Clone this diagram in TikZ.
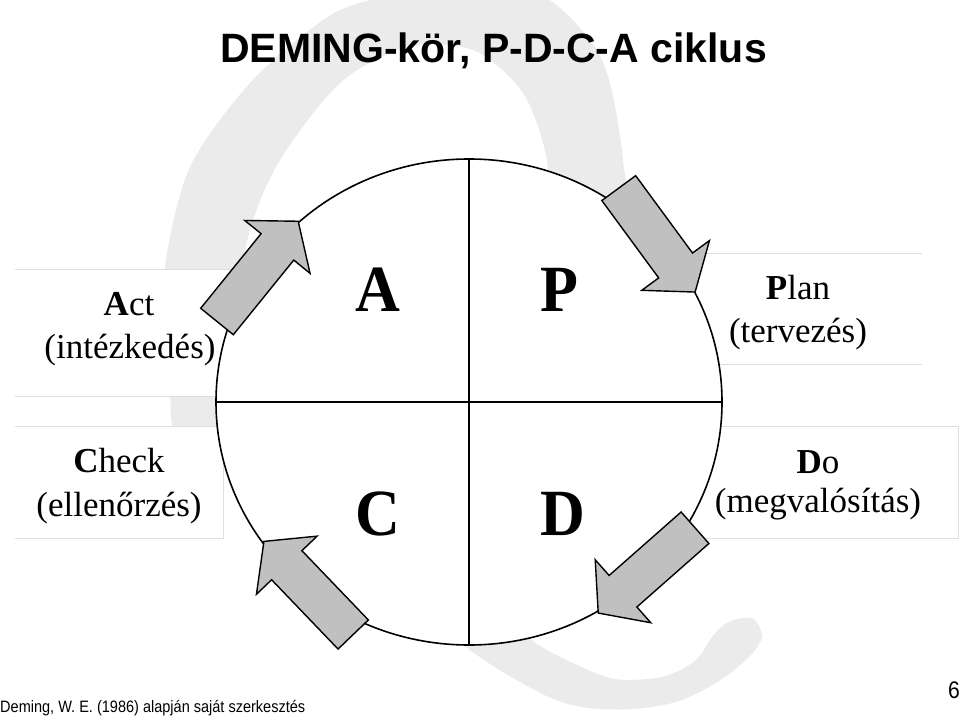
\documentclass[tikz,border=0pt]{standalone}
\usepackage{fontspec}
\setmainfont{Liberation Serif}
\newfontfamily\arialfont{Liberation Sans}
\newfontfamily\narrowfont[FakeStretch=0.88]{Liberation Sans}
\newfontfamily\quadfont[FakeStretch=0.94]{Liberation Serif}
\usetikzlibrary{shapes.geometric}
\definecolor{wmark}{HTML}{EBEBEB}
\definecolor{arrowgray}{HTML}{C0C0C0}
\definecolor{boxline}{HTML}{DEDEDE}
\tikzset{
  quad/.style={font=\quadfont\bfseries\fontsize{66}{66}\selectfont, anchor=base, inner sep=0pt},
  lbl/.style={font=\fontsize{35}{40}\selectfont, anchor=base, inner sep=0pt},
  box/.style={fill=white, inner sep=0pt},
  faint/.style={draw=boxline, line width=0.8pt},
  pics/cyclearrow/.style={code={
    \filldraw[fill=arrowgray, draw=black, line width=1.4pt, line join=miter]
      (0,-21) -- (96,-21) -- (96,-42) -- (129,0) -- (96,42) -- (96,21) -- (0,21) -- cycle;}}
}

\begin{document}
\begin{tikzpicture}[x=1pt,y=-1pt]
      \useasboundingbox (0,0) rectangle (960,719);

      % watermark
      \fill[wmark] plot[smooth cycle] coordinates {(177,440) (170,340) (165,267) (190,167)
        (250,83) (323,20) (370,0) (450,-15) (540,-5) (590,40) (610,83) (623,160) (625,235)
        (550,235) (547,160) (523,93) (473,50) (407,47) (340,83) (280,160) (250,230) (240,300) (245,440)};
      \fill[wmark] plot[smooth cycle] coordinates {(430,610) (457,640) (501,671) (551,698)
        (588,708) (635,709) (679,701) (719,681) (749,657) (762,637) (755,620) (742,618)
        (725,624) (712,637) (695,661) (662,677) (615,679) (575,664) (534,642) (500,610)};

      \node (title) at (493.5,62.7) [anchor=base, inner sep=0pt,
        font=\arialfont\bfseries\fontsize{41}{41}\selectfont] {DEMING-kör, P-D-C-A ciklus};

      % boxes
      \node (actbox) at (127.5,333) [box, minimum width=225pt, minimum height=126pt] {};
      \node (checkbox) at (119,482.5) [box, minimum width=208pt, minimum height=111pt] {};
      \node (planbox) at (813.5,309) [box, minimum width=217pt, minimum height=110pt] {};
      \node (dobox) at (829,482.5) [box, minimum width=258pt, minimum height=111pt] {};
      \draw[faint] (actbox.north west) -- (actbox.north east) (actbox.south west) -- (actbox.south east);
      \draw[faint] (checkbox.north west) -- (checkbox.north east) -- (checkbox.south east) -- (checkbox.south west);
      \draw[faint] (planbox.north west) -- (planbox.north east) (planbox.south west) -- (planbox.south east);
      \draw[faint] (dobox.north west) -- (dobox.north east) -- (dobox.south east) -- (dobox.south west);

      % circle
      \node (cyc) at (469,402) [draw, ellipse, fill=white, minimum width=506pt, minimum height=486pt,
        inner sep=0pt, line width=1.6pt] {};
      \draw[line width=1.5pt] (cyc.north) -- (cyc.south) (cyc.west) -- (cyc.east);

      \pic[rotate=51] at (217,321.5) {cyclearrow};
      \pic[rotate=-53.7] at (618.75,188.1) {cyclearrow};
      \pic[rotate=-138.6] at (695,527.75) {cyclearrow};
      \pic[rotate=133.8] at (353.2,634.5) {cyclearrow};

      \node (qA) at (378,311.6) [quad] {A};
      \node (qP) at (559,311.6) [quad] {P};
      \node (qC) at (378,535.4) [quad] {C};
      \node (qD) at (563,535.4) [quad] {D};

      % labels
      \node (act) at (129,315) [lbl] {\textbf{A}ct};
      \node (acthu) at (130,358) [lbl] {(intézkedés)};
      \node (check) at (119,472.7) [lbl] {\textbf{C}heck};
      \node (checkhu) at (119,516.7) [lbl] {(ellenőrzés)};
      \node (plan) at (798,299) [lbl] {\textbf{P}lan};
      \node (planhu) at (798,342.7) [lbl] {(tervezés)};
      \node (do) at (818,473.3) [lbl] {\textbf{D}o};
      \node (dohu) at (818,512.7) [lbl] {(megvalósítás)};

      \node (src) at (0,712) [anchor=base west, inner sep=0pt,
        font=\narrowfont\fontsize{16.5}{18}\selectfont] {Deming, W. E. (1986) alapján saját szerkesztés};
      \node (pagenum) at (960,698) [anchor=base east, inner sep=0pt,
        font=\narrowfont\fontsize{24}{24}\selectfont] {6};
\end{tikzpicture}
\end{document}
